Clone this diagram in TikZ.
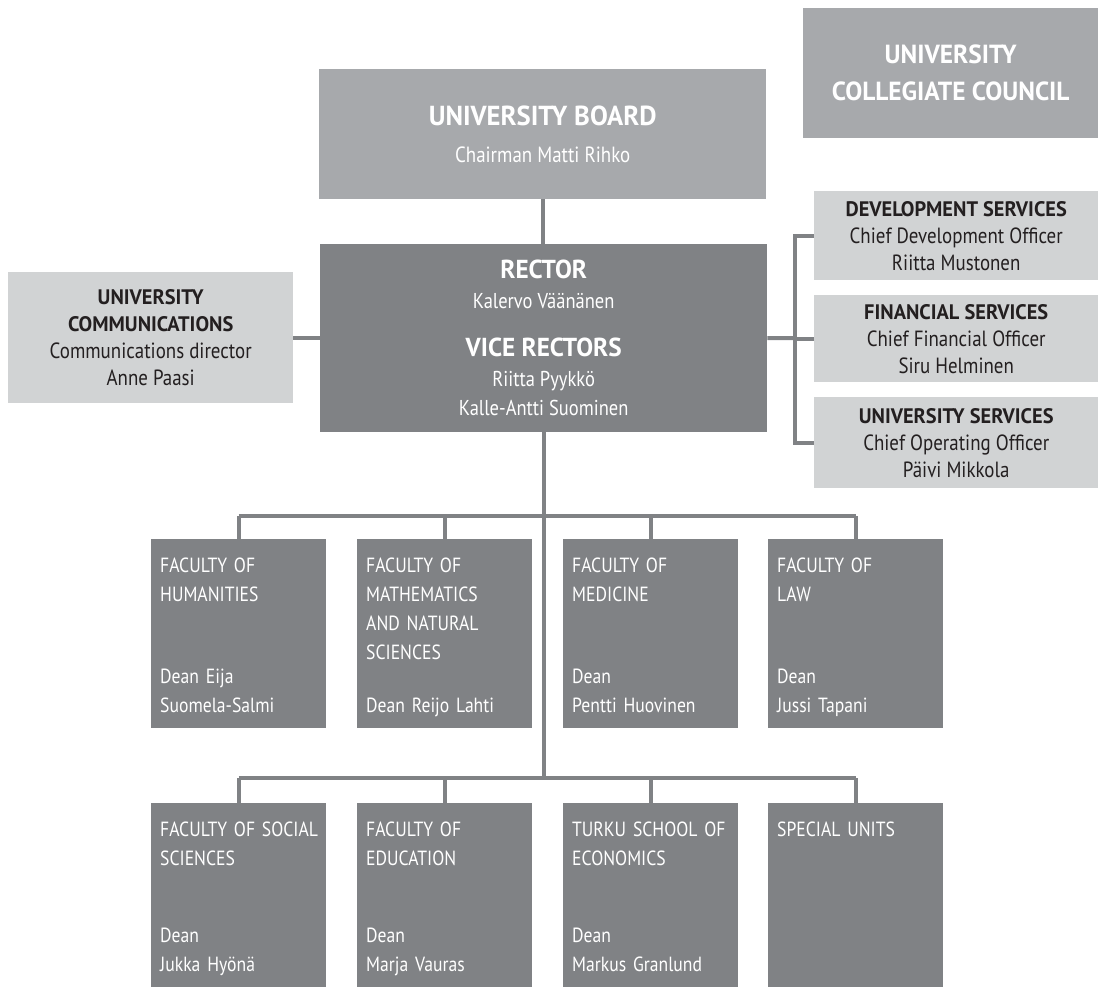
\documentclass[tikz,border=0pt]{standalone}
\usepackage{fontspec}
\setmainfont[FakeStretch=0.86, BoldFeatures={FakeStretch=0.97}]{PT Sans}

\definecolor{lightgrey}{HTML}{D1D3D4}
\definecolor{midgrey}{HTML}{A7A9AC}
\definecolor{darkgrey}{HTML}{808285}
\definecolor{inkblack}{HTML}{231F20}

\newcommand\unithead[1]{{\bfseries\fontsize{21}{21}\selectfont #1}}
\newcommand\bighead[1]{{\bfseries\fontsize{26}{26}\selectfont #1}}

\tikzset{
  box/.style={rectangle, inner sep=0pt, anchor=north west, align=center},
  lightbox/.style={box, fill=lightgrey, text=inkblack, font=\fontsize{22}{27}\selectfont},
  midbox/.style={box, fill=midgrey, text=white},
  darkbox/.style={box, fill=darkgrey, text=white},
  facbox/.style={box, fill=darkgrey, minimum width=175pt},
  factext/.style={inner sep=0pt, text=white, text width=170pt, align=left, font=\fontsize{20.5}{29}\selectfont},
  link/.style={draw=darkgrey, line width=4pt},
}

\begin{document}
\begin{tikzpicture}[x=1pt,y=-1pt]
\useasboundingbox (0,0) rectangle (1102,990);

% top bodies
\node[midbox, minimum width=295pt, minimum height=130pt, font=\fontsize{26.2}{37}\selectfont\bfseries]
  (council) at (803,8) {UNIVERSITY\\COLLEGIATE COUNCIL};
\node[midbox, minimum width=447pt, minimum height=130pt, font=\fontsize{22}{37}\selectfont]
  (board) at (319,69) {{\bfseries\fontsize{27.5}{27}\selectfont UNIVERSITY BOARD}\\Chairman Matti Rihko};
\node[darkbox, minimum width=447pt, minimum height=188pt, font=\fontsize{21.5}{29.5}\selectfont]
  (rector) at (320,244) {\bighead{RECTOR}\\Kalervo Väänänen\\[19pt]
  \bighead{VICE RECTORS}\\Riitta Pyykkö\\Kalle-Antti Suominen};

% staff units
\node[lightbox, minimum width=285pt, minimum height=131pt] (comm) at (8,272)
  {\unithead{UNIVERSITY}\\\unithead{COMMUNICATIONS}\\Communications director\\Anne Paasi};
\node[lightbox, minimum width=284pt, minimum height=89pt] (dev) at (814,191)
  {\unithead{DEVELOPMENT SERVICES}\\Chief Development Officer\\Riitta Mustonen};
\node[lightbox, minimum width=284pt, minimum height=87pt] (fin) at (814,295)
  {\unithead{FINANCIAL SERVICES}\\Chief Financial Officer\\Siru Helminen};
\node[lightbox, minimum width=284pt, minimum height=91pt] (usvc) at (814,397)
  {\unithead{UNIVERSITY SERVICES}\\Chief Operating Officer\\Päivi Mikkola};

% faculties
\foreach \nm/\x/\y/\h/\ttl/\dn in {
  hum/151/539/189/{FACULTY OF\\HUMANITIES}/{Dean Eija\\Suomela-Salmi},
  mat/357/539/189/{FACULTY OF\\MATHEMATICS\\AND NATURAL\\SCIENCES}/{Dean Reijo Lahti},
  med/563/539/189/{FACULTY OF\\MEDICINE}/{Dean\\Pentti Huovinen},
  law/768/539/189/{FACULTY OF\\LAW}/{Dean\\Jussi Tapani},
  soc/151/803/184/{FACULTY OF SOCIAL\\SCIENCES}/{Dean\\Jukka Hyönä},
  edu/357/803/184/{FACULTY OF\\EDUCATION}/{Dean\\Marja Vauras},
  tse/563/803/184/{TURKU SCHOOL OF\\ECONOMICS}/{Dean\\Markus Granlund},
  spec/768/803/184/{SPECIAL UNITS}/{}}{
  \node[facbox, minimum height=\h pt] (\nm) at (\x,\y) {};
  \node[factext, anchor=north west] (\nm-title) at ([xshift=9pt,yshift=-12.7pt]\nm.north west) {\strut\ttl};
  \node[factext, anchor=south west] (\nm-dean) at ([xshift=9pt,yshift=7.3pt]\nm.south west) {\dn\strut};
}

% connectors
\path (rector.south) ++(0,84) coordinate (bus1) ++(0,262) coordinate (bus2);
\coordinate (brk) at (795,338);
\draw[link] (board.south) -- (board.south |- rector.north);
\draw[link] (comm.east) -- (comm.east -| rector.west);
\draw[link] (rector.east) -- (brk);
\draw[link] (dev.west) -- (dev.west -| brk) -- (usvc.west -| brk) -- (usvc.west);
\draw[link] (fin.west) -- (fin.west -| brk);
\draw[link] (rector.south) -- (bus2);
\draw[link] (hum.north |- bus1) -- (law.north |- bus1);
\draw[link] (soc.north |- bus2) -- (spec.north |- bus2);
\foreach \f in {hum,mat,med,law} \draw[link] (\f.north) -- (\f.north |- bus1);
\foreach \f in {soc,edu,tse,spec} \draw[link] (\f.north) -- (\f.north |- bus2);

\end{tikzpicture}
\end{document}
